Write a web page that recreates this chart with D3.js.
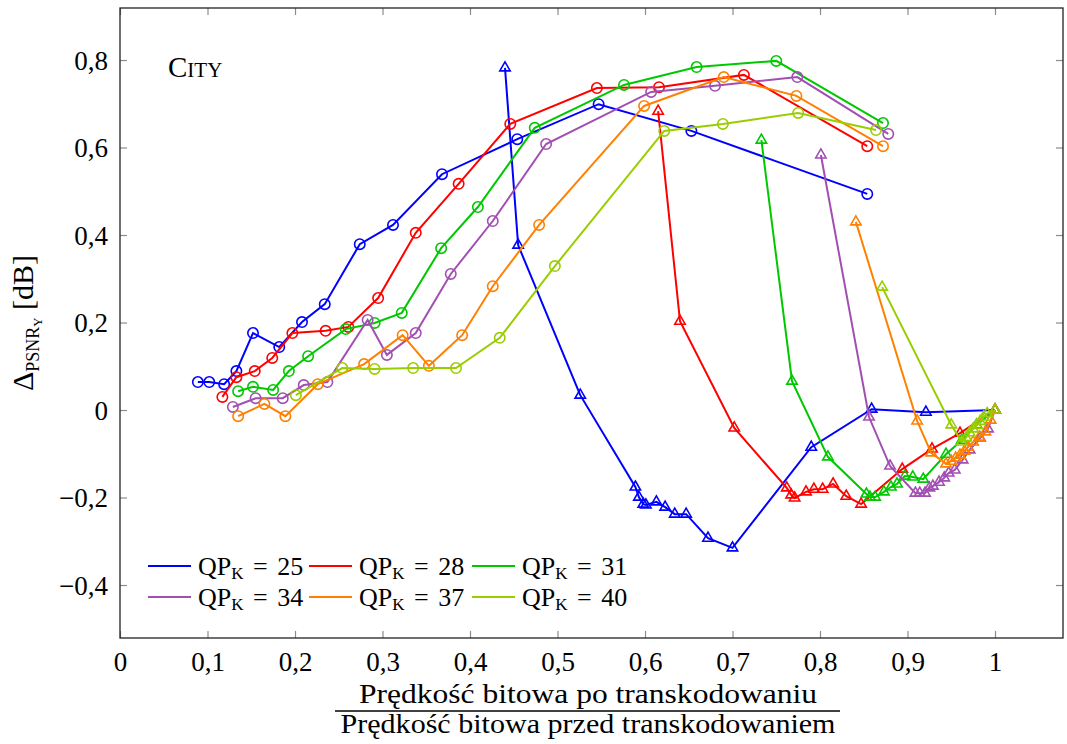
<!DOCTYPE html>
<head>
<meta charset="utf-8">
<script src="https://d3js.org/d3.v7.min.js"></script>
<style>
body { margin: 0; background: white; font-family: 'Liberation Serif', serif; }
.axis text { font-family: 'Liberation Serif', serif; font-size: 27px; fill: black; }
.axis line { stroke: #8c8c8c; stroke-width: 1.2; }
.axis path { display: none; }
</style>
</head>
<body>
<div id="plotContainer"></div>
<script>

// tick values and labels
var xTicks = [0, 0.1, 0.2, 0.3, 0.4, 0.5, 0.6, 0.7, 0.8, 0.9, 1];
var xTickLabels = ["0", "0,1", "0,2", "0,3", "0,4", "0,5", "0,6", "0,7", "0,8", "0,9", "1"];
var yTicks = [-0.4, -0.2, 0, 0.2, 0.4, 0.6, 0.8];
var yTickLabels = ["\u22120,4", "\u22120,2", "0", "0,2", "0,4", "0,6", "0,8"];

var qpValues = [25, 28, 31, 34, 37, 40];
var colors = ["#0000ff", "#ff0000", "#00c800", "#a24fb2", "#ff8000", "#9acd00"];

// circle series (one per QP)
var circ25 = [[0.089,0.064],[0.102,0.064],[0.119,0.059],[0.133,0.089],[0.152,0.176],[0.182,0.144],[0.208,0.201],[0.234,0.242],[0.274,0.379],[0.312,0.423],[0.368,0.539],[0.454,0.619],[0.547,0.699],[0.653,0.638],[0.854,0.494]];
var circ28 = [[0.117,0.030],[0.133,0.075],[0.154,0.089],[0.174,0.119],[0.197,0.176],[0.235,0.181],[0.261,0.190],[0.295,0.256],[0.338,0.405],[0.387,0.517],[0.446,0.654],[0.545,0.736],[0.616,0.738],[0.713,0.766],[0.854,0.603]];
var circ31 = [[0.135,0.043],[0.152,0.053],[0.175,0.046],[0.193,0.089],[0.215,0.123],[0.258,0.185],[0.291,0.199],[0.322,0.222],[0.367,0.370],[0.409,0.464],[0.474,0.645],[0.576,0.743],[0.659,0.784],[0.750,0.798],[0.872,0.656]];
var circ34 = [[0.129,0.007],[0.155,0.027],[0.186,0.027],[0.210,0.057],[0.237,0.064],[0.283,0.206],[0.305,0.126],[0.338,0.176],[0.378,0.311],[0.426,0.432],[0.487,0.608],[0.607,0.727],[0.680,0.741],[0.774,0.761],[0.878,0.631]];
var circ37 = [[0.135,-0.014],[0.165,0.014],[0.189,-0.014],[0.226,0.059],[0.279,0.105],[0.323,0.171],[0.353,0.101],[0.391,0.171],[0.426,0.283],[0.479,0.423],[0.599,0.695],[0.690,0.761],[0.773,0.718],[0.872,0.603]];
var circ40 = [[0.201,0.034],[0.254,0.096],[0.291,0.094],[0.335,0.096],[0.384,0.096],[0.434,0.165],[0.497,0.329],[0.622,0.638],[0.689,0.654],[0.775,0.679],[0.864,0.640]];

// triangle series (one per QP)
var tri25 = [[0.440,0.782],[0.455,0.377],[0.526,0.034],[0.589,-0.176],[0.593,-0.199],[0.598,-0.215],[0.601,-0.217],[0.613,-0.210],[0.623,-0.222],[0.634,-0.238],[0.647,-0.238],[0.672,-0.293],[0.700,-0.315],[0.790,-0.085],[0.859,0.002],[0.921,-0.005],[1.0,0.0]];
var tri28 = [[0.615,0.683],[0.640,0.203],[0.702,-0.041],[0.762,-0.178],[0.767,-0.194],[0.771,-0.201],[0.784,-0.187],[0.793,-0.181],[0.803,-0.181],[0.815,-0.169],[0.830,-0.197],[0.847,-0.215],[0.894,-0.135],[0.928,-0.089],[0.960,-0.053],[1.0,0.0]];
var tri31 = [[0.733,0.617],[0.768,0.066],[0.809,-0.107],[0.853,-0.192],[0.857,-0.199],[0.863,-0.199],[0.873,-0.187],[0.881,-0.176],[0.888,-0.169],[0.897,-0.151],[0.906,-0.153],[0.918,-0.158],[0.944,-0.101],[0.962,-0.069],[0.979,-0.034],[1.0,0.0]];
var tri34 = [[0.801,0.583],[0.856,-0.016],[0.880,-0.128],[0.909,-0.190],[0.914,-0.190],[0.920,-0.190],[0.925,-0.178],[0.929,-0.174],[0.936,-0.165],[0.942,-0.155],[0.947,-0.144],[0.954,-0.137],[0.963,-0.114],[0.971,-0.091],[0.983,-0.064],[0.992,-0.043],[1.0,0.0]];
var tri37 = [[0.841,0.430],[0.911,-0.025],[0.927,-0.098],[0.944,-0.123],[0.950,-0.117],[0.955,-0.110],[0.960,-0.103],[0.965,-0.094],[0.969,-0.085],[0.975,-0.073],[0.982,-0.062],[0.989,-0.050],[0.995,-0.023],[1.0,0.0]];
var tri40 = [[0.871,0.281],[0.950,-0.034],[0.962,-0.073],[0.967,-0.063],[0.971,-0.052],[0.975,-0.043],[0.979,-0.035],[0.983,-0.026],[0.987,-0.016],[0.991,-0.008],[1.0,0.0]];

var circSeries = [circ25, circ28, circ31, circ34, circ37, circ40];
var triSeries = [tri25, tri28, tri31, tri34, tri37, tri40];

var W = 1067, H = 744;
var box = {left: 120, right: 1063, top: 8, bottom: 638};

var svg = d3.select("#plotContainer")
    .append("svg")
    .attr("width", W)
    .attr("height", H);

var x = d3.scaleLinear().domain([0, 1.0777]).range([box.left, box.right]);
var y = d3.scaleLinear().domain([-0.5211, 0.9189]).range([box.bottom, box.top]);

var tick = 7;

svg.append("g")
    .attr("class", "axis")
    .attr("transform", "translate(0," + box.bottom + ")")
    .call(d3.axisBottom(x).tickValues(xTicks).tickFormat(function(d, i) { return xTickLabels[i]; })
        .tickSizeInner(-tick).tickSizeOuter(0).tickPadding(10))
    .selectAll("text").attr("dy", "0.85em");

svg.append("g")
    .attr("class", "axis")
    .attr("transform", "translate(0," + box.top + ")")
    .call(d3.axisTop(x).tickValues(xTicks).tickFormat("").tickSizeInner(-tick).tickSizeOuter(0));

svg.append("g")
    .attr("class", "axis")
    .attr("transform", "translate(" + box.left + ",0)")
    .call(d3.axisLeft(y).tickValues(yTicks).tickFormat(function(d, i) { return yTickLabels[i]; })
        .tickSizeInner(-tick).tickSizeOuter(0).tickPadding(12))
    .selectAll("text").attr("dy", "0.34em");

svg.append("g")
    .attr("class", "axis")
    .attr("transform", "translate(" + box.right + ",0)")
    .call(d3.axisRight(y).tickValues(yTicks).tickFormat("").tickSizeInner(-tick).tickSizeOuter(0));

svg.append("rect")
    .attr("x", box.left).attr("y", box.top)
    .attr("width", box.right - box.left).attr("height", box.bottom - box.top)
    .attr("fill", "none").attr("stroke", "#222").attr("stroke-width", 1.3);

var line = d3.line()
    .x(function(d) { return x(d[0]); })
    .y(function(d) { return y(d[1]); });

var triPath = function(R) {
  var h = R * Math.sqrt(3) / 2;
  return "M0," + (-R) + "L" + h + "," + (R / 2) + "L" + (-h) + "," + (R / 2) + "Z";
};

var plot = svg.append("g");

for (var i = 0; i < qpValues.length; i++) {
  var g = plot.append("g");

  g.append("path")
      .datum(triSeries[i])
      .attr("d", line)
      .attr("fill", "none")
      .attr("stroke", colors[i])
      .attr("stroke-width", 2);

  g.selectAll(".tri")
      .data(triSeries[i])
      .enter()
      .append("path")
        .attr("class", "tri")
        .attr("transform", function(d) { return "translate(" + x(d[0]) + "," + y(d[1]) + ")"; })
        .attr("d", triPath(6))
        .attr("fill", "none")
        .attr("stroke", colors[i])
        .attr("stroke-width", 1.6);

  g.append("path")
      .datum(circSeries[i])
      .attr("d", line)
      .attr("fill", "none")
      .attr("stroke", colors[i])
      .attr("stroke-width", 2);

  g.selectAll("circle")
      .data(circSeries[i])
      .enter()
      .append("circle")
        .attr("cx", function(d) { return x(d[0]); })
        .attr("cy", function(d) { return y(d[1]); })
        .attr("r", 5.2)
        .attr("fill", "none")
        .attr("stroke", colors[i])
        .attr("stroke-width", 1.6);
}

// sequence name
var city = svg.append("text")
    .attr("x", 168).attr("y", 77)
    .attr("font-size", 29);
city.append("tspan").text("C");
city.append("tspan").attr("font-size", 21).text("ITY");

// legend
var legX = [148, 309, 472];
var legY = [566, 597];
qpValues.forEach(function(qp, i) {
  var lx = legX[i % 3], ly = legY[Math.floor(i / 3)];
  svg.append("line")
      .attr("x1", lx).attr("x2", lx + 43)
      .attr("y1", ly).attr("y2", ly)
      .attr("stroke", colors[i]).attr("stroke-width", 2);
  var t = svg.append("text")
      .attr("x", lx + 50).attr("y", ly + 9)
      .attr("font-size", 26);
  t.append("tspan").text("QP");
  t.append("tspan").attr("font-size", 17).attr("dy", 4).text("K");
  t.append("tspan").attr("dy", -4).attr("word-spacing", 3).text(" = " + qp);
});

// y label
var yl = svg.append("text")
    .attr("transform", "translate(33," + ((box.top + box.bottom) / 2) + ") rotate(-90)")
    .attr("text-anchor", "middle")
    .attr("font-size", 30);
yl.append("tspan").text("\u0394");
yl.append("tspan").attr("font-size", 18).attr("dy", 6).text("PSNR");
yl.append("tspan").attr("font-size", 13).attr("dy", 3).text("Y");
yl.append("tspan").attr("dy", -9).text(" [dB]");

// x label as fraction
var cx = 588;
svg.append("text")
    .attr("x", cx).attr("y", 703)
    .attr("text-anchor", "middle")
    .attr("font-size", 28)
    .attr("textLength", 458)
    .attr("lengthAdjust", "spacingAndGlyphs")
    .text("Prędkość bitowa po transkodowaniu");
svg.append("line")
    .attr("x1", 335).attr("x2", 840)
    .attr("y1", 711).attr("y2", 711)
    .attr("stroke", "black").attr("stroke-width", 1.3);
svg.append("text")
    .attr("x", cx).attr("y", 733)
    .attr("text-anchor", "middle")
    .attr("font-size", 28)
    .attr("textLength", 495)
    .attr("lengthAdjust", "spacingAndGlyphs")
    .text("Prędkość bitowa przed transkodowaniem");

</script>
</body>
